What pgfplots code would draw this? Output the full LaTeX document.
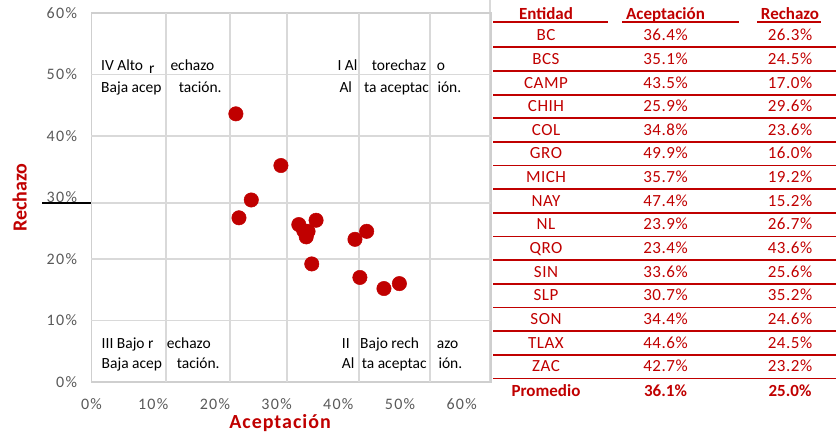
\documentclass[border=0pt]{standalone}
\usepackage{pgfplots}
\usepackage{pgfplotstable}
\pgfplotsset{compat=1.18}
\usepackage{fontspec}
\setmainfont{Carlito}
\newfontfamily\tickfont[LetterSpace=8]{Carlito}
\newfontfamily\tabfont[LetterSpace=3]{Carlito}
\newfontfamily\titlefont[LetterSpace=5]{Carlito}
\definecolor{myred}{HTML}{C00000}
\definecolor{gridgray}{HTML}{D9D9D9}
\definecolor{axisgray}{HTML}{CFCFCF}
\definecolor{ticktext}{HTML}{595959}

\pgfplotstableread{
ent acep rech
BC 36.4 26.3
BCS 35.1 24.5
CAMP 43.5 17.0
CHIH 25.9 29.6
COL 34.8 23.6
GRO 49.9 16.0
MICH 35.7 19.2
NAY 47.4 15.2
NL 23.9 26.7
QRO 23.4 43.6
SIN 33.6 25.6
SLP 30.7 35.2
SON 34.4 24.6
TLAX 44.6 24.5
ZAC 42.7 23.2
}\datatable

\pgfplotstableread{
ent acep rech
Promedio 36.1 25.0
}\promtable

\begin{document}
\begin{tikzpicture}[x=1pt,y=1pt]
\path[use as bounding box] (0,0) rectangle (836,-437);
\draw[gridgray, line width=1.2pt] (490,0) -- (490,-382);
\begin{axis}[
  at={(91.5pt,-382pt)}, anchor=south west,
  scale only axis, width=399.5pt, height=369pt,
  xmin=0, xmax=64.75, ymin=0, ymax=60,
  xtick={0,10,...,60}, ytick={0,10,...,60},
  /pgf/number format/assume math mode=true,
  xticklabel={\pgfmathprintnumber{\tick}\%},
  yticklabel={\pgfmathprintnumber{\tick}\%},
  tick label style={font=\tickfont\fontsize{16}{16}\selectfont, text=ticktext},
  xticklabel style={yshift=-13pt},
  yticklabel style={xshift=-11pt},
  major tick length=0pt,
  axis line style={draw=axisgray, line width=1.5pt},
  major grid style={draw=gridgray, line width=1.5pt},
  extra x ticks={12.07,22.45,31.69,43.35,54.86},
  extra x tick labels={},
  extra x tick style={grid=major},
  extra y ticks={10,20,29.1,40,50},
  extra y tick labels={},
  extra y tick style={grid=major},
  xlabel={Aceptación}, ylabel={Rechazo},
  label style={font=\titlefont\bfseries\fontsize{20}{20}\selectfont, text=myred},
  xlabel style={at={(axis description cs:0.472,-0.111)}, anchor=center},
  ylabel style={at={(axis description cs:-0.18,0.5)}, anchor=center, font=\bfseries\fontsize{20}{20}\selectfont},
  clip=false,
]
\addplot[only marks, mark=*, mark size=7.2pt, mark options={fill=myred, draw=myred, line width=0.5pt}] table[x=acep, y=rech] {\datatable};
\end{axis}
\draw[black, line width=1.3pt] (42,-203) -- (91,-203);
% quadrant texts
\begin{scope}[every node/.style={anchor=base west, inner sep=0pt, font=\fontsize{15.5}{15.5}\selectfont}]
\node at (101,-70) {IV Alto};
\node at (149,-73) {r};
\node at (170.3,-70) {echazo};
\node at (101,-92.7) {Baja acep};
\node at (178.7,-92.7) {tación.};
\node at (337.3,-70) {I Al};
\node at (371.7,-70) {torechaz};
\node at (436.7,-70) {o};
\node at (339.3,-92.7) {Al};
\node at (364,-92.7) {ta aceptac};
\node at (437.3,-92.7) {ión.};
\node at (101.5,-348.3) {III Bajo r};
\node at (166.7,-348.3) {echazo};
\node at (101.5,-368.3) {Baja acep};
\node at (176.7,-368.3) {tación.};
\node at (341.7,-348.3) {II};
\node at (360,-348.3) {Bajo rech};
\node at (436.7,-348.3) {azo};
\node at (341.7,-368.3) {Al};
\node at (361.7,-368.3) {ta aceptac};
\node at (438.3,-368.3) {ión.};
\end{scope}
% table
\begin{scope}[every node/.style={anchor=base, inner sep=0pt, text=myred}]
\node[font=\bfseries\fontsize{17}{17}\selectfont] at (546,-19.3) {Entidad};
\node[font=\bfseries\fontsize{17}{17}\selectfont] at (665.5,-19.3) {Aceptación};
\node[font=\bfseries\fontsize{17}{17}\selectfont] at (790,-19.3) {Rechazo};
\draw[myred, line width=1.8pt] (493,-21.8) -- (608,-21.8);
\draw[myred, line width=1.8pt] (622,-21.8) -- (739,-21.8);
\draw[myred, line width=1.8pt] (757,-21.8) -- (821,-21.8);
\foreach \i in {0,...,14} {
  \pgfplotstablegetelem{\i}{ent}\of\datatable \let\ent\pgfplotsretval
  \pgfplotstablegetelem{\i}{acep}\of\datatable \let\acep\pgfplotsretval
  \pgfplotstablegetelem{\i}{rech}\of\datatable \let\rech\pgfplotsretval
  \node[font=\tabfont\fontsize{17}{17}\selectfont] at (546,{-40.7-23.65*\i}) {\ent};
  \node[font=\tabfont\fontsize{17}{17}\selectfont] at (665.5,{-40.7-23.65*\i}) {\acep\%};
  \node[font=\tabfont\fontsize{17}{17}\selectfont] at (790,{-40.7-23.65*\i}) {\rech\%};
  \draw[myred, line width=1.8pt] (493,{-47.3-23.65*\i}) -- (836,{-47.3-23.65*\i});
}
\pgfplotstablegetelem{0}{ent}\of\promtable \let\pent\pgfplotsretval
\pgfplotstablegetelem{0}{acep}\of\promtable \let\pacep\pgfplotsretval
\pgfplotstablegetelem{0}{rech}\of\promtable \let\prech\pgfplotsretval
\node[font=\bfseries\fontsize{17}{17}\selectfont] at (546,-396.2) {\pent};
\node[font=\bfseries\fontsize{17}{17}\selectfont] at (665.5,-396.2) {\pacep\%};
\node[font=\bfseries\fontsize{17}{17}\selectfont] at (790,-396.2) {\prech\%};
\end{scope}
\end{tikzpicture}
\end{document}
